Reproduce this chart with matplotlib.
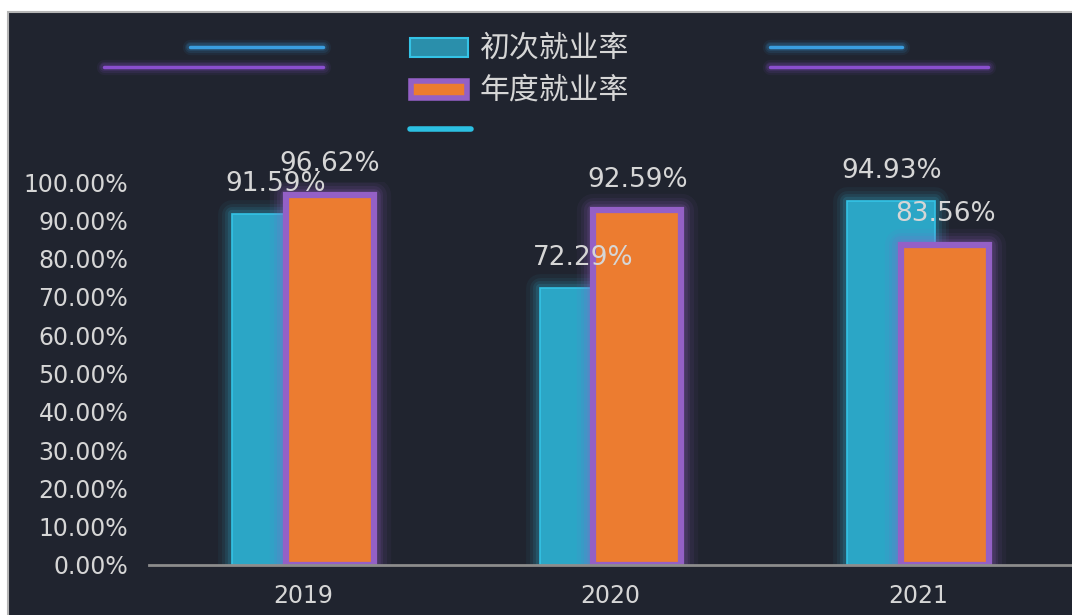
import matplotlib.pyplot as plt
from matplotlib.patches import Rectangle
from matplotlib.lines import Line2D
import numpy as np

plt.rcParams['font.family'] = ['DejaVu Sans', 'Noto Sans CJK SC']

# data
years = ['2019', '2020', '2021']
first_rate = [91.59, 72.29, 94.93]     # 初次就业率
annual_rate = [96.62, 92.59, 83.56]    # 年度就业率
series_names = ['初次就业率', '年度就业率']
yticks = np.arange(0, 101, 10)

W, H = 1072, 615
bg = '#20242f'
cyan = '#2ba6c6'
cyan_edge = '#34c3e6'
orange = '#ec7c30'
purple = '#9460c6'
txt = '#d6d6d6'


def fx(x):
    return x / W


def fy(y):
    return 1 - y / H


fig = plt.figure(figsize=(W / 100, H / 100), dpi=100, facecolor='white')

# dark panel with grey border on top/left
fig.add_artist(Rectangle((fx(8), -0.1), 1.2, fy(12) + 0.1, transform=fig.transFigure,
                         facecolor=bg, edgecolor='#b5b5b5', linewidth=1.5, zorder=0))

ax = fig.add_axes([fx(149), fy(565), 1 - fx(149), fy(182) - fy(565)])
ax.set_facecolor('none')
ax.set_xlim(-0.5, 2.5)
ax.set_ylim(0, 100)

x = np.arange(len(years))
bw = 0.286
off = 0.0875

# glow behind first series
for lw, a in [(20, 0.05), (15, 0.07), (10, 0.1), (6, 0.14)]:
    ax.bar(x - off, first_rate, bw, fill=False, edgecolor=cyan_edge, linewidth=lw,
           alpha=a, joinstyle='round', zorder=2)
ax.bar(x - off, first_rate, bw, color=cyan, edgecolor=cyan_edge, linewidth=1.2, zorder=3)

# glow behind second series
for lw, a in [(24, 0.06), (18, 0.08), (13, 0.11), (9, 0.15)]:
    ax.bar(x + off, annual_rate, bw, fill=False, edgecolor=purple, linewidth=lw,
           alpha=a, joinstyle='round', zorder=4)
ax.bar(x + off, annual_rate, bw, color=orange, edgecolor=purple, linewidth=4.5, zorder=5)

for xi, v in zip(x - off, first_rate):
    ax.annotate(f'{v:.2f}%', (xi, v), xytext=(0, 22), textcoords='offset points',
                ha='center', va='center', fontsize=19, color=txt, zorder=6, annotation_clip=False)
for xi, v in zip(x + off, annual_rate):
    ax.annotate(f'{v:.2f}%', (xi, v), xytext=(0, 22), textcoords='offset points',
                ha='center', va='center', fontsize=19, color=txt, zorder=6, annotation_clip=False)

ax.set_xticks(x)
ax.set_xticklabels(years)
ax.set_yticks(yticks)
ax.set_yticklabels([f'{t:.2f}%' for t in yticks])
ax.tick_params(axis='both', length=0, labelsize=17, colors=txt)
ax.tick_params(axis='y', pad=15)
ax.tick_params(axis='x', pad=14)
for s in ['top', 'right', 'left']:
    ax.spines[s].set_visible(False)
ax.spines['bottom'].set_color('#8c8c8c')
ax.spines['bottom'].set_linewidth(2)
ax.spines['bottom'].set_zorder(7)


def glow_line(x0, x1, y, color):
    for lw, a in [(11, 0.07), (8, 0.11), (5.5, 0.16)]:
        fig.add_artist(Line2D([fx(x0), fx(x1)], [fy(y), fy(y)], color=color, lw=lw,
                              alpha=a, solid_capstyle='round'))
    fig.add_artist(Line2D([fx(x0), fx(x1)], [fy(y), fy(y)], color=color, lw=2.5,
                          solid_capstyle='round'))


# decorative glowing lines
glow_line(190, 323, 47, '#3a9ee0')
glow_line(104, 323, 67, '#8a4fcf')
glow_line(770, 902, 47, '#3a9ee0')
glow_line(770, 988, 67, '#8a4fcf')

# legend
fig.add_artist(Rectangle((fx(410), fy(57)), fx(58), fy(38) - fy(57), transform=fig.transFigure,
                         facecolor='#2a8fab', edgecolor=cyan_edge, linewidth=1.5))
fig.text(fx(480), fy(48), series_names[0], fontsize=21.5, color=txt, va='center', ha='left',
         family=['Noto Sans CJK SC', 'DejaVu Sans'])
fig.add_artist(Rectangle((fx(411), fy(98)), fx(56), fy(81) - fy(98), transform=fig.transFigure,
                         facecolor=orange, edgecolor=purple, linewidth=4))
fig.text(fx(480), fy(90), series_names[1], fontsize=21.5, color=txt, va='center', ha='left',
         family=['Noto Sans CJK SC', 'DejaVu Sans'])
fig.add_artist(Line2D([fx(410), fx(471)], [fy(129), fy(129)], color='#2cc0e2', lw=4,
                      solid_capstyle='round'))

fig.savefig('out.png', dpi=100, facecolor='white')
